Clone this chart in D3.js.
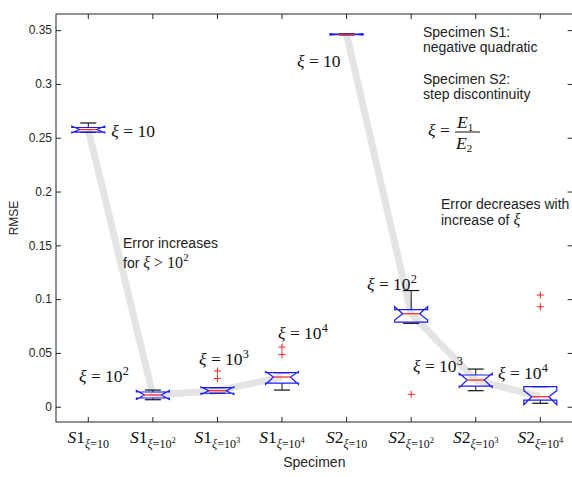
<!DOCTYPE html>
<html>
<head>
<meta charset="utf-8">
<script src="https://cdn.jsdelivr.net/npm/d3@7"></script>
<style>
  html, body { margin: 0; padding: 0; background: #fff; }
  svg { display: block; }
  text { white-space: pre; }
</style>
</head>
<body>
<svg id="chart" width="572" height="477"></svg>
<script>
// ---------- data ----------
const specimens = ["S1", "S1", "S1", "S1", "S2", "S2", "S2", "S2"];
const xiExponents = [1, 2, 3, 4, 1, 2, 3, 4];
const categories = specimens.map((s, i) => s + "_" + xiExponents[i]);

const q1        = [0.2553, 0.0081, 0.0125, 0.0220, 0.3458, 0.0787, 0.0192, 0.0062];
const median    = [0.2576, 0.0109, 0.0149, 0.0276, 0.3461, 0.0864, 0.0248, 0.0093];
const q3        = [0.2595, 0.0137, 0.0177, 0.0316, 0.3464, 0.0903, 0.0295, 0.0186];
const notchLo   = [0.2545, 0.0068, 0.0115, 0.0208, 0.3455, 0.0805, 0.0180, 0.0018];
const notchHi   = [0.2607, 0.0150, 0.0183, 0.0327, 0.3467, 0.0930, 0.0310, 0.0150];
const whiskerLo = [0.2550, 0.0065, 0.0125, 0.0155, 0.3456, 0.0775, 0.0149, 0.0032];
const whiskerHi = [0.2637, 0.0155, 0.0177, 0.0316, 0.3466, 0.1080, 0.0350, 0.0186];
const outliers  = [[], [], [0.0332, 0.0262], [0.0555, 0.0485], [], [0.0115], [], [0.1038, 0.0929]];

const yTicks = [0, 0.05, 0.1, 0.15, 0.2, 0.25, 0.3, 0.35];
const yTickLabels = ["0", "0.05", "0.1", "0.15", "0.2", "0.25", "0.3", "0.35"];
const yLabel = "RMSE";
const xLabel = "Specimen";

// ---------- layout ----------
const svg = d3.select("#chart");
const L = 56, R = 572.6, T = 14, B = 422;
const sans = "'Liberation Sans', Arial, Helvetica, sans-serif";
const serif = "'Liberation Serif', 'Times New Roman', serif";
const ink = "#262626";

const x = d3.scaleBand().domain(categories).range([L, R]).paddingInner(0).paddingOuter(0);
const cx = c => x(c) + x.bandwidth() / 2;
const y = d3.scaleLinear().domain([-0.0142, 0.365]).range([B, T]);

// rich text helper
function rich(parent, px, py, segs, anchor) {
  const t = parent.append("text")
    .attr("x", px).attr("y", py)
    .attr("text-anchor", anchor || "start")
    .attr("font-family", serif)
    .attr("fill", "#111");
  segs.forEach(s => {
    const ts = t.append("tspan")
      .attr("font-size", s.fs)
      .attr("font-style", s.it ? "italic" : "normal")
      .text(s.t);
    if (s.dy) ts.attr("dy", s.dy);
  });
  return t;
}
function xiPow(e, fs) {
  const segs = [{ t: "ξ", it: true, fs: fs }, { t: " = 10", fs: fs }];
  if (e > 1) segs.push({ t: String(e), fs: fs * 0.7, dy: -fs * 0.42 });
  return segs;
}

// ---------- gray trend lines (behind) ----------
const line = d3.line().x(i => cx(categories[i])).y(i => y(median[i]));
[[0, 1, 2, 3], [4, 5, 6, 7]].forEach(idx => {
  svg.append("path")
    .attr("d", line(idx))
    .attr("fill", "none")
    .attr("stroke", "#e4e4e4")
    .attr("stroke-width", 7)
    .attr("stroke-linejoin", "round")
    .attr("stroke-linecap", "butt");
});

// ---------- boxes ----------
const boxW = 33, inset = 8, capW = 16;
const gBox = svg.append("g");
categories.forEach((c, i) => {
  const xc = cx(c), l = xc - boxW / 2, r = xc + boxW / 2;
  gBox.append("line").attr("x1", xc).attr("x2", xc).attr("y1", y(q3[i])).attr("y2", y(whiskerHi[i]))
    .attr("stroke", "#111").attr("stroke-width", 1);
  gBox.append("line").attr("x1", xc).attr("x2", xc).attr("y1", y(q1[i])).attr("y2", y(whiskerLo[i]))
    .attr("stroke", "#111").attr("stroke-width", 1);
  [whiskerHi[i], whiskerLo[i]].forEach(v => {
    gBox.append("line").attr("x1", xc - capW / 2).attr("x2", xc + capW / 2)
      .attr("y1", y(v)).attr("y2", y(v)).attr("stroke", "#111").attr("stroke-width", 1.2);
  });
  const pts = [
    [l, y(q1[i])], [l, y(notchLo[i])], [l + inset, y(median[i])], [l, y(notchHi[i])], [l, y(q3[i])],
    [r, y(q3[i])], [r, y(notchHi[i])], [r - inset, y(median[i])], [r, y(notchLo[i])], [r, y(q1[i])]
  ];
  gBox.append("path")
    .attr("d", d3.line()(pts) + "Z")
    .attr("fill", "none").attr("stroke", "#1a1aff").attr("stroke-width", 1.2);
  gBox.append("line").attr("x1", l + inset).attr("x2", r - inset)
    .attr("y1", y(median[i])).attr("y2", y(median[i]))
    .attr("stroke", "#ff2020").attr("stroke-width", 1.2);
  outliers[i].forEach(v => {
    const oy = y(v), s = 3.5;
    gBox.append("path")
      .attr("d", `M${xc - s},${oy}H${xc + s}M${xc},${oy - s}V${oy + s}`)
      .attr("stroke", "#ff2020").attr("stroke-width", 1).attr("fill", "none");
  });
});

// ---------- axes ----------
const axG = svg.append("g").attr("color", ink);
axG.append("g").attr("transform", `translate(${L},0)`)
  .call(d3.axisLeft(y).tickValues(yTicks).tickSize(-5).tickPadding(4)
    .tickFormat((d, i) => yTickLabels[i]))
  .call(g => g.select(".domain").remove())
  .call(g => g.selectAll("text").attr("font-family", sans).attr("font-size", 12).attr("fill", ink));
axG.append("g").attr("transform", `translate(${R},0)`)
  .call(d3.axisRight(y).tickValues(yTicks).tickSize(-5).tickFormat(""))
  .call(g => g.select(".domain").remove());
axG.append("g").attr("transform", `translate(0,${B})`)
  .call(d3.axisBottom(x).tickSize(-5).tickFormat(""))
  .call(g => g.select(".domain").remove());
axG.append("g").attr("transform", `translate(0,${T})`)
  .call(d3.axisTop(x).tickSize(-5).tickFormat(""))
  .call(g => g.select(".domain").remove());
svg.append("rect").attr("x", L).attr("y", T).attr("width", R - L).attr("height", B - T)
  .attr("fill", "none").attr("stroke", ink).attr("stroke-width", 1);

// x tick labels
categories.forEach((c, i) => {
  const segs = [
    { t: "S", it: true, fs: 17.5 }, { t: specimens[i].slice(1), fs: 17.5 },
    { t: "ξ", it: true, fs: 12, dy: 5 }, { t: "=10", fs: 12 }
  ];
  if (xiExponents[i] > 1) segs.push({ t: String(xiExponents[i]), fs: 8.5, dy: -5 });
  rich(svg, cx(c), 443, segs, "middle");
});

// axis titles
svg.append("text").attr("x", (L + R) / 2).attr("y", 467).attr("text-anchor", "middle")
  .attr("font-family", sans).attr("font-size", 14).attr("fill", ink).text(xLabel);
svg.append("text").attr("transform", `translate(18,${(T + B) / 2}) rotate(-90)`)
  .attr("text-anchor", "middle").attr("font-family", sans).attr("font-size", 12)
  .attr("fill", ink).text(yLabel);

// ---------- annotations ----------
const fsA = 17.5;
rich(svg, cx(categories[0]) + 23, y(median[0]) + 7, xiPow(1, fsA));
rich(svg, 79, 382, xiPow(2, fsA));
rich(svg, 199, 365, xiPow(3, fsA));
rich(svg, 278, 339, xiPow(4, fsA));
rich(svg, 297, 67, xiPow(1, fsA));
rich(svg, 367, 290, xiPow(2, fsA));
rich(svg, 413, 372, xiPow(3, fsA));
rich(svg, 498, 379, xiPow(4, fsA));

function note(px, py, str) {
  return svg.append("text").attr("x", px).attr("y", py)
    .attr("font-family", sans).attr("font-size", 14).attr("fill", "#222").text(str);
}
note(423, 37, "Specimen S1:");
note(423, 52, "negative quadratic");
note(423, 84, "Specimen S2:");
note(423, 99, "step discontinuity");
note(441, 209, "Error decreases with");
{
  const t = note(441, 225, "increase of ");
  t.append("tspan").attr("font-family", serif).attr("font-style", "italic").attr("font-size", 16).text("ξ");
}
note(123, 248, "Error increases");
{
  const t = note(123, 268, "for ");
  t.append("tspan").attr("font-family", serif).attr("font-style", "italic").attr("font-size", 16).text("ξ");
  t.append("tspan").attr("font-family", serif).attr("font-size", 16).text(" > 10");
  t.append("tspan").attr("font-family", serif).attr("font-size", 11).attr("dy", -7).text("2");
}

rich(svg, 428, 136, [{ t: "ξ", it: true, fs: 17.5 }, { t: " =", fs: 17.5 }]);
rich(svg, 457, 128, [{ t: "E", it: true, fs: 17.5 }, { t: "1", fs: 11, dy: 3 }]);
rich(svg, 456, 149, [{ t: "E", it: true, fs: 17.5 }, { t: "2", fs: 11, dy: 3 }]);
svg.append("line").attr("x1", 455).attr("x2", 480).attr("y1", 132).attr("y2", 132)
  .attr("stroke", "#111").attr("stroke-width", 1);
</script>
</body>
</html>
